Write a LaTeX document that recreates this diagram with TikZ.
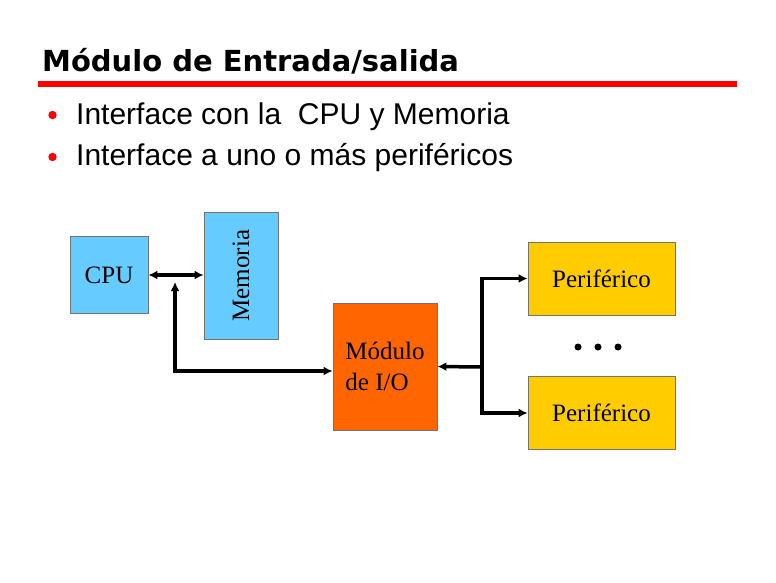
\documentclass[tikz,border=0pt]{standalone}
\usepackage{fontspec}
\setmainfont{Liberation Serif}
\newfontfamily\titlefont{DejaVu Sans}
\newfontfamily\bulletfont{Liberation Sans}
\usepackage{tikz}
\usetikzlibrary{arrows.meta}
\usetikzlibrary{positioning}
\usetikzlibrary{calc}
\definecolor{memblue}{HTML}{66CCFF}
\definecolor{ioorange}{HTML}{FF6600}
\definecolor{peryellow}{HTML}{FFCC00}
\tikzset{box/.style={draw=black!55,line width=0.8pt,inner sep=0pt,font=\fontsize{25}{31}\selectfont},
bus/.style={line width=3.5pt,line cap=rect,-{Latex[length=9pt,width=9pt]}},
dbus/.style={line width=3.5pt,{Latex[length=9pt,width=9pt]}-{Latex[length=9pt,width=9pt]}},
bullettext/.style={anchor=base west,inner sep=0pt,font=\bulletfont\fontsize{30}{36}\selectfont}}

\begin{document}
\begin{tikzpicture}[x=1pt,y=-1pt]
\fill[white] (0,0) rectangle (776,582);
\useasboundingbox (0,0) rectangle (776,582);

\node (title) [anchor=base west, inner sep=0pt, font=\titlefont\bfseries\fontsize{29}{35}\selectfont] at (42,71.7) {Módulo de Entrada/salida};
\draw[red, line width=5.5pt] (38,83.8) -- (737,83.8);

\node (b1) [bullettext] at (76,124) {Interface con la\ \ CPU y Memoria};
\node (b2) [bullettext] at (76,165) {Interface a uno o más periféricos};
\fill[red] (52.5,115) circle (4.2pt);
\fill[red] (52.5,157) circle (4.2pt);

\node (cpu) at (109,275) [box, fill=memblue, minimum width=78pt, minimum height=77pt] {CPU};
\node (mem) at (241,275.5) [box, fill=memblue, minimum width=74pt, minimum height=127pt] {\rotatebox{90}{Memoria}};
\node (io) at (385,366.5) [box, fill=ioorange, minimum width=104pt, minimum height=127pt, align=left] {Módulo\\de I/O};

\draw[dbus] (cpu.east) -- (cpu.east -| mem.west);
\coordinate (tap) at (175,282);
\draw[dbus] (tap) |- ([yshift=-4.5pt]io.west);

\coordinate (hub) at (482,367);
\draw[bus] (hub) -- (io.east);
\foreach \x/\y in {1/278.5, 2/413} {
\node (p\x) at (601.5,\y) [box, fill=peryellow, minimum width=147pt, minimum height=73pt] {Periférico};
\draw[bus] (hub) |- (p\x.west);
}

\foreach \x in {578, 598, 618} {
\fill (\x,347) circle (3.5pt);
}

\end{tikzpicture}
\end{document}
